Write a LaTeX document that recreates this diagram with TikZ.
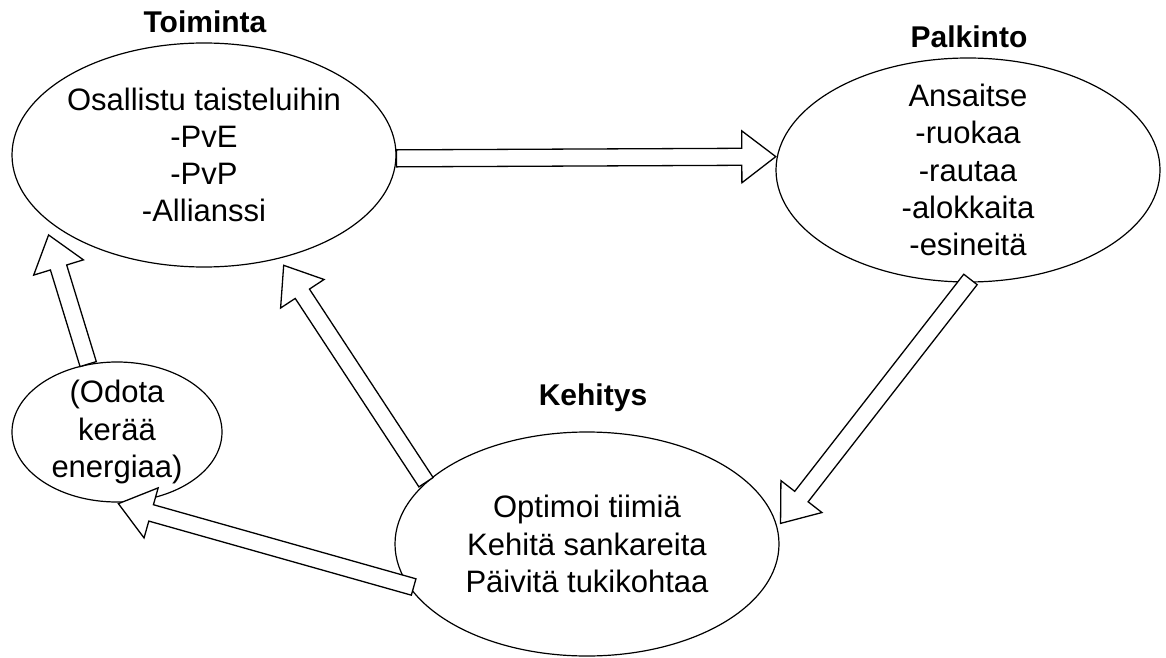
\documentclass[tikz,border=0pt]{standalone}
\usepackage{fontspec}
\setmainfont{Liberation Sans}
\usetikzlibrary{shapes.geometric,calc}

% hollow block arrow: tail, tip, tail gap, tip gap
\newcommand{\shaftw}{8.5pt}
\newcommand{\headw}{26pt}
\newcommand{\headlen}{34pt}
\newcommand{\blockarrow}[4]{%
  \coordinate (bt) at ($(#1)!#3!(#2)$);
  \coordinate (bh) at ($(#2)!#4!(#1)$);
  \coordinate (bn) at ($(bh)!\headlen!(bt)$);
  \draw[blk] ($(bt)!\shaftw!90:(bh)$) -- ($(bn)!\shaftw!90:(bh)$)
    -- ($(bn)!\headw!90:(bh)$) -- (bh) -- ($(bn)!\headw!-90:(bh)$)
    -- ($(bn)!\shaftw!-90:(bh)$) -- ($(bt)!\shaftw!-90:(bh)$) -- cycle;
}

\begin{document}
\begin{tikzpicture}[x=1pt, y=1pt,
  stage/.style={draw, ellipse, line width=1.2pt, minimum width=384pt, minimum height=224pt,
    inner sep=-8pt, align=center, font=\fontsize{31}{37.2}\selectfont},
  ttl/.style={font=\fontsize{30}{36}\selectfont\bfseries, inner sep=0pt, anchor=base},
  blk/.style={draw, line width=1.3pt, fill=white, line join=miter}]
  \useasboundingbox (0,0) rectangle (1166,657);
  % Stages
  \node[stage] (toim) at (204,502) {Osallistu taisteluihin\\-PvE\\-PvP\\-Allianssi};
  \node[stage] (palk) at (968,487) {Ansaitse\\-ruokaa\\-rautaa\\-alokkaita\\-esineitä};
  \node[stage] (keh) at (587,113) {Optimoi tiimiä\\Kehitä sankareita\\Päivitä tukikohtaa};
  \node[stage, minimum width=210pt, minimum height=140pt] (odota) at (117,225) {(Odota\\kerää\\energiaa)};
  % Titles
  \node[ttl] (toimT) at (205,624) {Toiminta};
  \node[ttl] (palkT) at (969,609) {Palkinto};
  \node[ttl] (kehT) at (593,252) {Kehitys};
  % Loop arrows
  \blockarrow{toim.-1}{palk.176}{0pt}{1pt}
  \blockarrow{palk.south}{keh.5}{-4pt}{5pt}
  \blockarrow{keh.159}{toim.-54}{0pt}{8pt}
  \blockarrow{keh.193}{odota.-92}{-6pt}{4pt}
  \blockarrow{odota.113}{toim.-159}{0pt}{19pt}
\end{tikzpicture}
\end{document}
